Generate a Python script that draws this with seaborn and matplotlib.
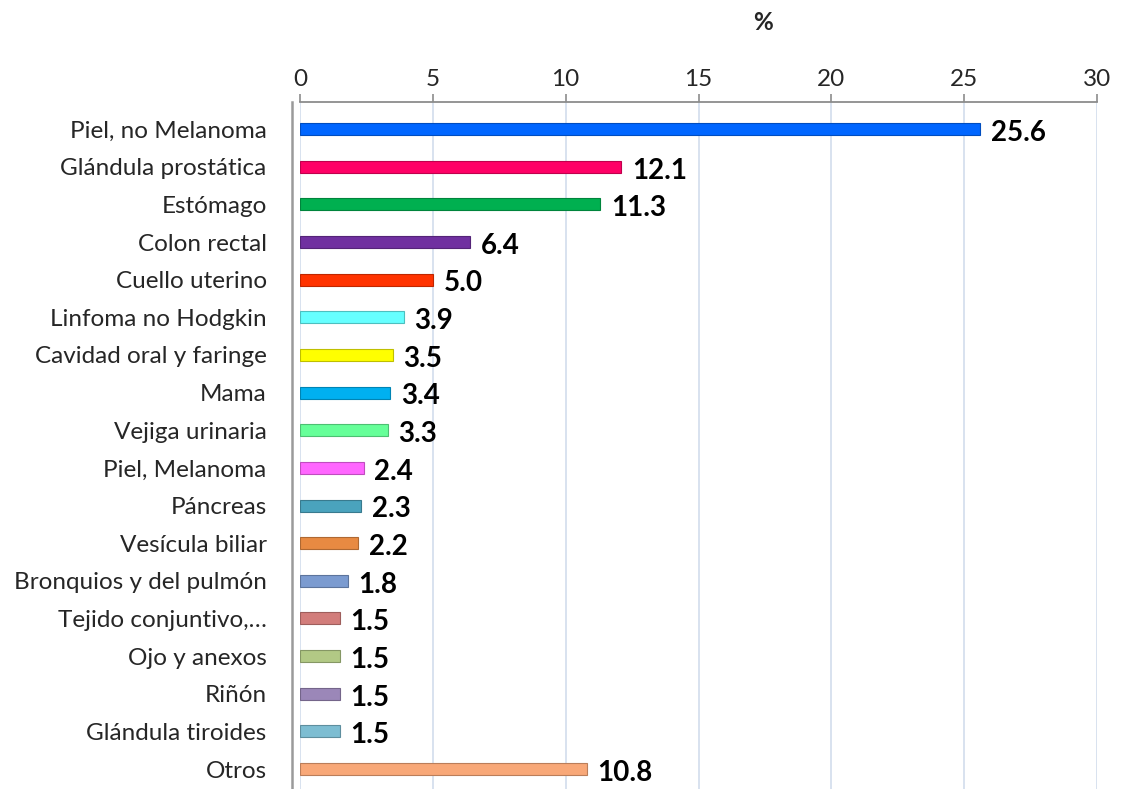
import numpy as np
import pandas as pd
import matplotlib
matplotlib.use("Agg")
import matplotlib.pyplot as plt
import matplotlib.colors as mcolors
import seaborn as sns

# data
sites = ["Piel, no Melanoma", "Glándula prostática", "Estómago", "Colon rectal",
         "Cuello uterino", "Linfoma no Hodgkin", "Cavidad oral y faringe", "Mama",
         "Vejiga urinaria", "Piel, Melanoma", "Páncreas", "Vesícula biliar",
         "Bronquios y del pulmón", "Tejido conjuntivo,…", "Ojo y anexos", "Riñón",
         "Glándula tiroides", "Otros"]
pct = [25.6, 12.1, 11.3, 6.4, 5.0, 3.9, 3.5, 3.4, 3.3, 2.4, 2.3, 2.2,
       1.8, 1.5, 1.5, 1.5, 1.5, 10.8]
bar_colors = ["#0066ff", "#ff0066", "#00b050", "#7030a0", "#ff3300", "#66ffff",
              "#ffff00", "#00b0f0", "#66ff99", "#ff66ff", "#4aa3bd", "#e88a42",
              "#7b9bd0", "#d27d7b", "#b2c985", "#9b87b8", "#7dbdd2", "#f8a878"]

df = pd.DataFrame({"site": sites, "pct": pct})

sns.set_style("white")
plt.rcParams["font.family"] = ["Lato", "DejaVu Sans"]

fig = plt.figure(figsize=(11.22, 7.89), dpi=100)
ax = fig.add_axes([300 / 1122, 0.0, 797 / 1122, 1 - 102 / 789])

sns.barplot(data=df, x="pct", y="site", hue="site", palette=bar_colors,
            orient="h", width=0.32, saturation=1, legend=False, ax=ax)

# darker edge to hint at the 3D look of the original bars
for patch, c in zip(ax.patches, bar_colors):
    dark = np.array(mcolors.to_rgb(c)) * 0.75
    patch.set_edgecolor(dark)
    patch.set_linewidth(0.8)

for i, v in enumerate(pct):
    ax.text(v + 0.4, i + 0.1, f"{v:.1f}", va="center", ha="left",
            fontsize=20, fontweight="bold", color="black")

ax.set_xlim(0, 30)
ax.set_ylim(17.53, -0.72)
ax.set_xticks(range(0, 31, 5))
ax.xaxis.tick_top()
ax.xaxis.set_label_position("top")
ax.tick_params(axis="x", direction="out", length=6, width=1.2, color="#8c8c8c",
               labelsize=17.5, pad=3)
ax.tick_params(axis="y", length=0, labelsize=17.5, pad=18)
ax.set_xlabel("")
ax.set_ylabel("")

ax.grid(axis="x", color="#d6dfee", linewidth=1.3)
ax.set_axisbelow(True)
for s in ["right", "bottom"]:
    ax.spines[s].set_visible(False)
ax.spines["top"].set_color("#8c8c8c")
ax.spines["top"].set_linewidth(1.3)
ax.spines["left"].set_color("#9a9a9a")
ax.spines["left"].set_linewidth(1.8)
ax.spines["left"].set_position(("outward", 6))

fig.text(763 / 1122, 1 - 22 / 789, "%", ha="center", va="center",
         fontsize=17.5, fontweight="bold")

fig.savefig("out.png", dpi=100)
